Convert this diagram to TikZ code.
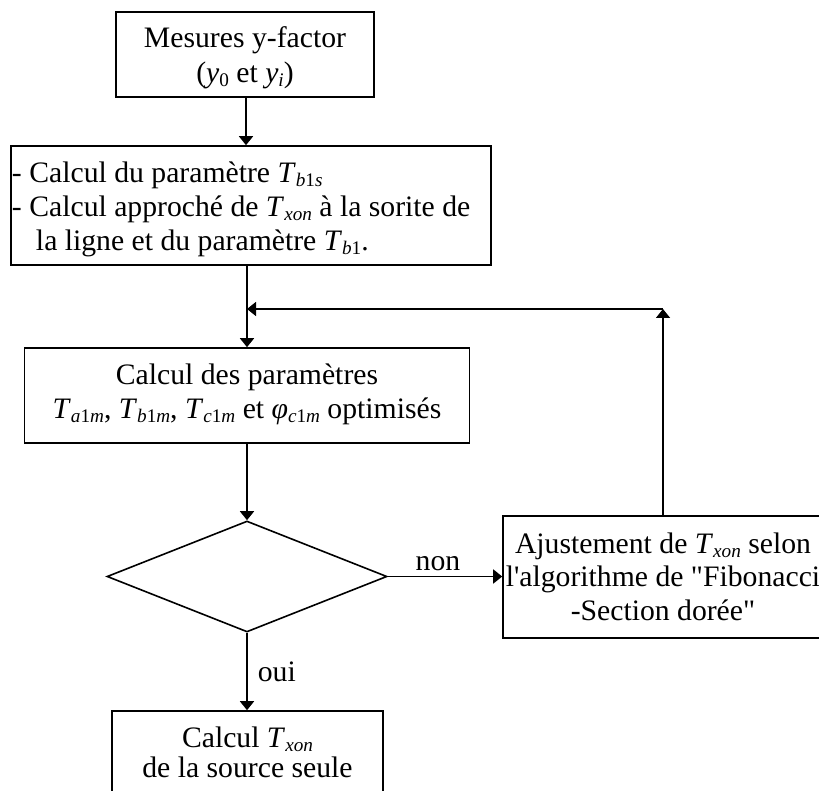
\documentclass[tikz,border=0pt]{standalone}
\usepackage{fontspec}
\setmainfont{Liberation Serif}[Ligatures=TeXOff]
\usetikzlibrary{shapes.geometric,arrows.meta}
\newcommand\ssub[1]{\raisebox{-4pt}{\fontsize{19.2}{19.2}\selectfont #1}}
\newcommand\Tsub[1]{\textit{T}\ssub{#1}}
\newcommand\tstr[1]{\rule{0pt}{#1}}
\newcommand\bstr[1]{\rule[-#1]{0pt}{#1}}
\newcommand\nsp{\spaceskip=0pt\xspaceskip=0pt\relax}
\begin{document}
\begin{tikzpicture}[x=1pt,y=-1pt,
  every node/.style={font=\fontsize{29.7}{34}\selectfont},
  box/.style={draw,line width=1.6pt,rectangle,inner sep=0pt,align=center},
  conn/.style={line width=1.6pt,-{Triangle[length=9pt,width=14pt]}},
  lbl/.style={inner sep=0pt}]
\clip (0,0) rectangle (819,791);
\fill[white] (0,0) rectangle (819,791);
\node[box,minimum width=258pt,minimum height=85pt,font=\fontsize{29.7}{35}\selectfont] (b1) at (245,54.5)
  {\nsp\tstr{36pt}Mesures y-factor\\(\textit{y}\ssub{0} et \textit{y}\ssub{\textit{i}})\bstr{14pt}};
\node[box,minimum width=480pt,minimum height=119pt,text width=478pt,align=left] (b2) at (251,205.5)
  {\nsp\tstr{37pt}- Calcul du paramètre \Tsub{\textit{b}1\textit{s}}\\
   - Calcul approché de \Tsub{\textit{xon}} à la sorite de\\
   \hspace*{24pt}la ligne et du paramètre \Tsub{\textit{b}1}.\bstr{14pt}};
\node[box,minimum width=445pt,minimum height=95pt] (b3) at (247,395.5)
  {\nsp\tstr{36pt}Calcul des paramètres\\
   \Tsub{\textit{a}1\textit{m}}, \Tsub{\textit{b}1\textit{m}}, \Tsub{\textit{c}1\textit{m}} et \textit{φ}\ssub{\textit{c}1\textit{m}} optimisés\bstr{25pt}};
\node[draw,line width=1.6pt,diamond,inner sep=0pt,minimum width=280pt,minimum height=111pt] (d) at (247,576.5) {};
\node[box,minimum width=320pt,minimum height=122pt,font=\fontsize{29.7}{33.5}\selectfont] (b4) at (663,577)
  {\nsp\tstr{37pt}Ajustement de \Tsub{\textit{xon}} selon\\
   l'algorithme de "Fibonacci\\
   -Section dorée"\bstr{18pt}};
\node[box,minimum width=271pt,minimum height=89pt,font=\fontsize{29.7}{30}\selectfont] (b5) at (247.5,755.5)
  {\nsp\tstr{36pt}Calcul \Tsub{\textit{xon}}\\de la source seule\bstr{23pt}};
\coordinate (corner) at (663,309);
\coordinate (join) at (247,309);
\draw[conn] (b1.south -| 246,0) -- (246,0 |- b2.north);
\draw[conn] (b2.south -| b3.north) -- (b3.north);
\draw[conn] (b3.south) -- (d.north);
\draw[conn] (d.east) -- node[lbl,anchor=base,xshift=-7pt,yshift=6pt] {non} (d.east -| b4.west);
\draw[conn] (b4.north) -- (corner);
\draw[conn] (corner) -- (join);
\draw[conn] (d.south) -- node[lbl,anchor=base west,xshift=10pt,yshift=-9.5pt] {oui} (d.south |- b5.north);
\end{tikzpicture}
\end{document}
